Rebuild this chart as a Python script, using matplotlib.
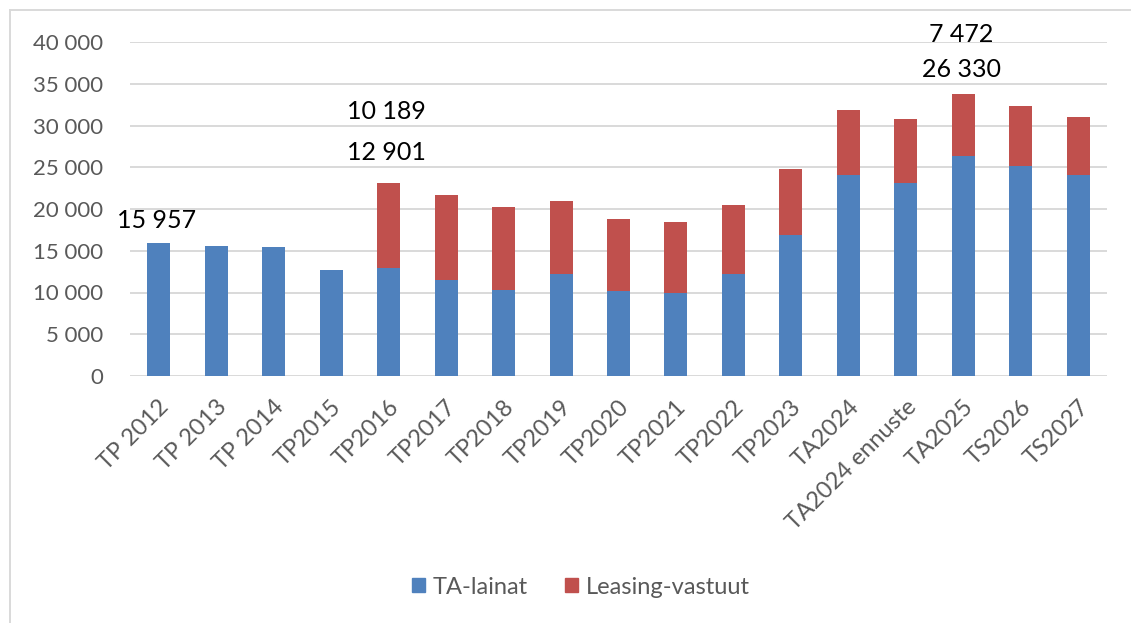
import numpy as np
import matplotlib.pyplot as plt
import matplotlib.transforms as mtransforms
from matplotlib.lines import Line2D
from matplotlib.patches import Patch


# ==========================================================
# DATA
# ==========================================================

categories = [
    "TP 2012", "TP 2013", "TP 2014", "TP2015", "TP2016", "TP2017",
    "TP2018", "TP2019", "TP2020", "TP2021", "TP2022", "TP2023",
    "TA2024", "TA2024 ennuste", "TA2025", "TS2026", "TS2027"
]

ta_lainat = [
    15957, 15600, 15500, 12700, 12901, 11530,
    10340, 12220, 10140, 9980, 12220, 16850,
    24110, 23070, 26330, 25150, 24110
]

leasing_vastuut = [
    0, 0, 0, 0, 10189, 10150,
    9940, 8780, 8620, 8420, 8260, 7940,
    7750, 7750, 7472, 7220, 6870
]

series_names = ["TA-lainat", "Leasing-vastuut"]

y_ticks = [0, 5000, 10000, 15000, 20000, 25000, 30000, 35000, 40000]


# ==========================================================
# STYLE
# ==========================================================

BLUE = "#4F81BD"
RED = "#C0504D"
GRID = "#D9D9D9"
TEXT_GRAY = "#595959"

plt.rcParams["font.family"] = ["Lato", "DejaVu Sans"]

W, H = 1131, 623


def fmt(v):
    return f"{v:,.0f}".replace(",", " ")


# ==========================================================
# PLOT
# ==========================================================

def main():

    fig = plt.figure(figsize=(W / 100, H / 100), dpi=100)

    # light outer frame (top + left visible)
    fig.add_artist(Line2D([10 / W, 10 / W], [0, 1 - 10 / H],
                          color=GRID, lw=1.4, transform=fig.transFigure))
    fig.add_artist(Line2D([10 / W, 1], [1 - 10 / H, 1 - 10 / H],
                          color=GRID, lw=1.4, transform=fig.transFigure))

    ax = fig.add_axes([130 / W, 1 - 376 / H, 977 / W, 334 / H])

    x = np.arange(len(categories))
    lainat = np.array(ta_lainat)
    leasing = np.array(leasing_vastuut)

    ax.bar(x, lainat, width=0.4, color=BLUE, zorder=3)
    ax.bar(x, leasing, width=0.4, bottom=lainat, color=RED, zorder=3)

    ax.set_xlim(-0.5, len(categories) - 0.5)
    ax.set_ylim(0, 40000)

    ax.set_yticks(y_ticks)
    ax.set_yticklabels([fmt(v) for v in y_ticks])
    ax.yaxis.grid(True, color=GRID, lw=1.4, zorder=0)
    ax.set_axisbelow(True)

    for s in ax.spines.values():
        s.set_visible(False)

    ax.tick_params(axis="y", length=0, colors=TEXT_GRAY, labelsize=16,
                   pad=19.5)

    ax.set_xticks(x)
    ax.set_xticklabels(categories, rotation=45, ha="right", va="center",
                       rotation_mode="anchor")
    ax.tick_params(axis="x", length=0, colors=TEXT_GRAY, labelsize=17,
                   pad=20)
    shift = mtransforms.ScaledTranslation(7 / 100, 0, fig.dpi_scale_trans)
    for lbl in ax.get_xticklabels():
        lbl.set_transform(lbl.get_transform() + shift)

    # ------------------------------------------------------
    # DATA LABELS (manually placed in the original)
    # ------------------------------------------------------

    totals = lainat + leasing

    labels = [
        (0, ta_lainat[0], totals[0], 22),
        (4, ta_lainat[4], totals[4], 31),
        (4, leasing_vastuut[4], totals[4], 72),
        (14, ta_lainat[14], totals[14], 24),
        (14, leasing_vastuut[14], totals[14], 59),
    ]

    for i, value, top, off in labels:
        ax.annotate(
            fmt(value),
            xy=(x[i], top),
            xytext=(-2, off),
            textcoords="offset pixels",
            ha="center",
            va="center",
            fontsize=18,
            color="black",
            annotation_clip=False,
            zorder=5
        )

    # ------------------------------------------------------
    # LEGEND
    # ------------------------------------------------------

    handles = [Patch(color=BLUE), Patch(color=RED)]
    leg = fig.legend(
        handles,
        series_names,
        loc="center",
        bbox_to_anchor=(581 / W, 1 - 587 / H),
        ncol=2,
        frameon=False,
        fontsize=17,
        handlelength=0.55,
        handleheight=0.55,
        handletextpad=0.3,
        columnspacing=1.6
    )
    for t in leg.get_texts():
        t.set_color(TEXT_GRAY)

    fig.savefig("out.png", dpi=100)


if __name__ == "__main__":
    main()
